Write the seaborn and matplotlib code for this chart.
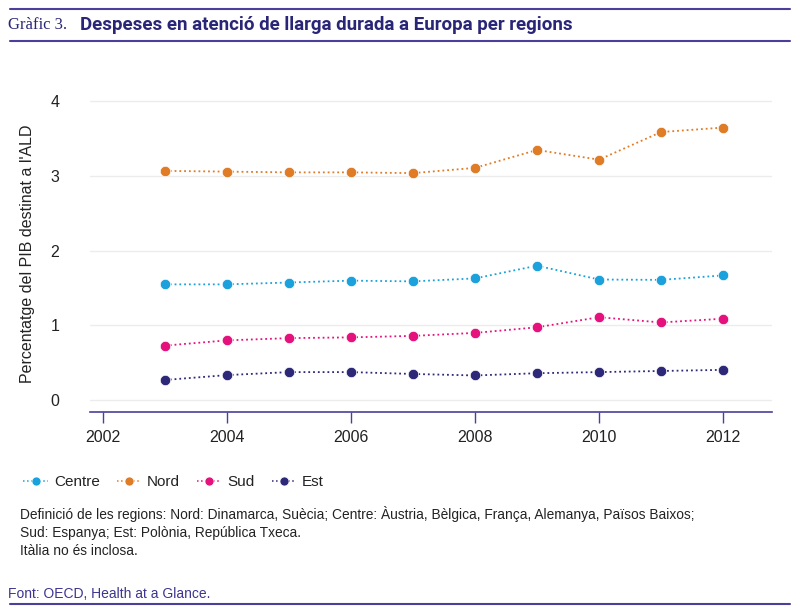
import numpy as np
import pandas as pd
import seaborn as sns
import matplotlib.pyplot as plt
from matplotlib.lines import Line2D

years = [2003, 2004, 2005, 2006, 2007, 2008, 2009, 2010, 2011, 2012]
centre = [1.55, 1.55, 1.575, 1.60, 1.59, 1.63, 1.80, 1.615, 1.61, 1.67]
nord = [3.07, 3.06, 3.05, 3.05, 3.04, 3.11, 3.35, 3.22, 3.59, 3.65]
sud = [0.73, 0.80, 0.83, 0.84, 0.86, 0.90, 0.975, 1.11, 1.04, 1.09]
est = [0.27, 0.335, 0.375, 0.375, 0.35, 0.33, 0.36, 0.375, 0.39, 0.405]

regions = ['Centre', 'Nord', 'Sud', 'Est']
colors = ['#1ba1dc', '#e07b26', '#e5127d', '#2e2878']
x_ticks = [2002, 2004, 2006, 2008, 2010, 2012]
y_ticks = [0, 1, 2, 3, 4]

df = pd.DataFrame({
    'year': years * 4,
    'value': centre + nord + sud + est,
    'region': np.repeat(regions, len(years)),
})

sns.set_style('white')
plt.rcParams['font.family'] = ['Liberation Sans', 'DejaVu Sans']
navy = '#2a2677'
rule = '#4a3f9a'

fig = plt.figure(figsize=(8, 6.15), dpi=100)
ax = fig.add_axes([0.1125, 0.330, 0.8525, 0.516])

sns.lineplot(data=df, x='year', y='value', hue='region', palette=colors,
             hue_order=regions, marker='o', markersize=7.5, linestyle=':',
             linewidth=1.3, markeredgecolor='white', markeredgewidth=0.5,
             legend=False, ax=ax)

ax.set_xlim(2001.79, 2012.79)
ax.set_ylim(-0.16, 4.09)
ax.set_xticks(x_ticks)
ax.set_yticks(y_ticks)
ax.tick_params(axis='x', bottom=True, direction='out', length=8, width=1,
               color=rule, labelsize=11.5, labelcolor='#222222', pad=5)
ax.tick_params(axis='y', left=False, length=0, labelsize=11.5,
               labelcolor='#222222', pad=22)
ax.grid(axis='y', color='#ececec', linewidth=1)
for s in ['top', 'right', 'left']:
    ax.spines[s].set_visible(False)
ax.spines['bottom'].set_color(rule)
ax.spines['bottom'].set_linewidth(1.2)
ax.set_xlabel('')
ax.set_ylabel("Percentatge del PIB destinat a l'ALD", fontsize=11.5,
              color='#222222', labelpad=10)
ax.yaxis.set_label_coords(-0.08, 0.5)

handles = [Line2D([0], [0], color=c, linestyle=':', linewidth=1.1, marker='o',
                  markersize=6.5, markeredgecolor='white', markeredgewidth=0.5)
           for c in colors]
fig.legend(handles, regions, loc='center left', bbox_to_anchor=(0.012, 0.216),
           ncol=4, frameon=False, fontsize=11, handlelength=1.6,
           handletextpad=0.4, columnspacing=1.1, labelcolor='#222222')

# top and bottom rules
fig.add_artist(Line2D([0.012, 0.988], [1 - 9 / 615, 1 - 9 / 615],
                      color=rule, linewidth=1.5))
fig.add_artist(Line2D([0.012, 0.988], [1 - 41 / 615, 1 - 41 / 615],
                      color=rule, linewidth=1.5))
fig.add_artist(Line2D([0.012, 0.988], [1 - 604 / 615, 1 - 604 / 615],
                      color=rule, linewidth=1.5))

fig.text(0.01, 1 - 25 / 615, 'Gràfic 3.', fontsize=12, color=navy,
         family=['Liberation Serif', 'DejaVu Serif'], va='center')
fig.text(0.1, 1 - 25 / 615, 'Despeses en atenció de llarga durada a Europa per regions',
         fontsize=13.5, fontweight='bold', color=navy,
         family=['Roboto', 'DejaVu Sans'], va='center')

note = ('Definició de les regions: Nord: Dinamarca, Suècia; Centre: Àustria, '
        'Bèlgica, França, Alemanya, Països Baixos;\n'
        'Sud: Espanya; Est: Polònia, República Txeca.\n'
        'Itàlia no és inclosa.')
fig.text(0.025, 1 - 506 / 615, note, fontsize=9.9, color='#222222',
         va='top', linespacing=1.35)
fig.text(0.01, 1 - 594 / 615, 'Font: OECD, Health at a Glance.', fontsize=10,
         color='#3d3590', va='center')

fig.savefig('out.png', dpi=100)
